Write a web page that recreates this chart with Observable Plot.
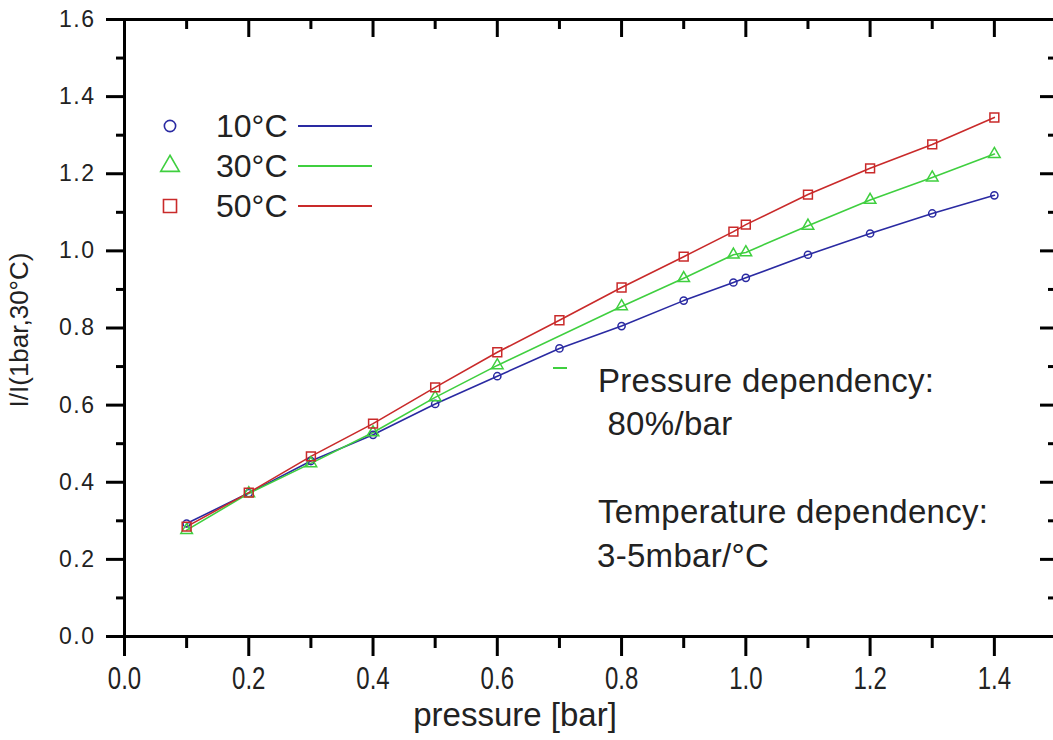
<!DOCTYPE html>
<html><head><meta charset="utf-8">
<script src="https://cdn.jsdelivr.net/npm/d3@7"></script>
<script src="https://cdn.jsdelivr.net/npm/@observablehq/plot@0.6"></script>
<style>
html,body{margin:0;padding:0;background:#fff;overflow:hidden;}
#wrap{width:1053px;height:740px;overflow:hidden;position:relative;}
#wrap svg{display:block;max-width:none !important;width:1062px !important;height:740px !important;}
</style></head><body><div id="wrap"></div>
<script>
// ---- data ----
const seriesNames = ["10°C", "30°C", "50°C"];
const seriesColors = ["#2a2aa2", "#3fcf3f", "#c92a2a"];
const seriesSymbols = ["circle", "triangle", "square"];

const pressure10 = [0.1, 0.2, 0.3, 0.4, 0.5, 0.6, 0.7, 0.8, 0.9, 0.98, 1.0, 1.1, 1.2, 1.3, 1.4];
const ratio10    = [0.293, 0.372, 0.455, 0.523, 0.603, 0.675, 0.747, 0.805, 0.871, 0.918, 0.930, 0.990, 1.045, 1.097, 1.144];

const pressure30 = [0.1, 0.2, 0.3, 0.4, 0.5, 0.6, 0.8, 0.9, 0.98, 1.0, 1.1, 1.2, 1.3, 1.4];
const ratio30    = [0.276, 0.371, 0.449, 0.529, 0.620, 0.703, 0.856, 0.929, 0.990, 0.996, 1.065, 1.132, 1.190, 1.251];

const pressure50 = [0.1, 0.2, 0.3, 0.4, 0.5, 0.6, 0.7, 0.8, 0.9, 0.98, 1.0, 1.1, 1.2, 1.3, 1.4];
const ratio50    = [0.285, 0.373, 0.467, 0.552, 0.646, 0.737, 0.820, 0.905, 0.985, 1.050, 1.068, 1.146, 1.214, 1.276, 1.346];

const xMajorTicks = [0.0, 0.2, 0.4, 0.6, 0.8, 1.0, 1.2, 1.4];
const xMinorTicks = [0.1, 0.3, 0.5, 0.7, 0.9, 1.1, 1.3];
const xTickLabels = ["0.0", "0.2", "0.4", "0.6", "0.8", "1.0", "1.2", "1.4"];
const yMajorTicks = [0.0, 0.2, 0.4, 0.6, 0.8, 1.0, 1.2, 1.4, 1.6];
const yMinorTicks = [0.1, 0.3, 0.5, 0.7, 0.9, 1.1, 1.3, 1.5];
const yTickLabels = ["0.0", "0.2", "0.4", "0.6", "0.8", "1.0", "1.2", "1.4", "1.6"];

const xTitle = "pressure [bar]";
const yTitle = "I/I(1bar,30°C)";
const noteLines = ["Pressure dependency:", " 80%/bar", "Temperature dependency:", "3-5mbar/°C"];

// ---- build table ----
const series = [
  {name: seriesNames[0], p: pressure10, v: ratio10},
  {name: seriesNames[1], p: pressure30, v: ratio30},
  {name: seriesNames[2], p: pressure50, v: ratio50}
];
const rows = series.flatMap(s => s.p.map((p, i) => ({series: s.name, pressure: p, ratio: s.v[i]})));
const colorOf = Object.fromEntries(seriesNames.map((n, i) => [n, seriesColors[i]]));
const xFmt = d => xTickLabels[xMajorTicks.indexOf(d)];
const yFmt = d => yTickLabels[yMajorTicks.indexOf(d)];

const W = 1062, H = 740;
const mL = 124, mR = 6, mT = 19, mB = 104;
const plotW = W - mL - mR, plotH = H - mT - mB;
const xDom = [0, 1.5], yDom = [0, 1.6];
const pxX = (xDom[1] - xDom[0]) / plotW;   // data units per pixel
const pxY = (yDom[1] - yDom[0]) / plotH;
const axisStyle = {stroke: "#000", strokeWidth: 3, label: null};

const marks = [
  // data lines
  ...seriesNames.map(n => Plot.line(rows.filter(r => r.series === n), {x: "pressure", y: "ratio", stroke: colorOf[n], strokeWidth: 1.6})),
  // markers
  Plot.dot(rows.filter(r => r.series === seriesNames[0]), {x: "pressure", y: "ratio", symbol: seriesSymbols[0], r: 3.6, stroke: seriesColors[0], strokeWidth: 1.5, fill: "none"}),
  Plot.dot(rows.filter(r => r.series === seriesNames[1]), {x: "pressure", y: "ratio", symbol: seriesSymbols[1], r: 4.3, stroke: seriesColors[1], strokeWidth: 1.5, fill: "none"}),
  Plot.dot(rows.filter(r => r.series === seriesNames[2]), {x: "pressure", y: "ratio", symbol: seriesSymbols[2], r: 5, stroke: seriesColors[2], strokeWidth: 1.5, fill: "none"}),
  // frame
  Plot.frame({stroke: "#000", strokeWidth: 3}),
  // bottom axis (outward)
  Plot.axisX({anchor: "bottom", ticks: xMajorTicks, tickSize: 20, tickPadding: 10, tickFormat: xFmt, ...axisStyle, fill: "#222"}),
  Plot.axisX({anchor: "bottom", ticks: xMinorTicks, tickSize: 12, text: null, ...axisStyle}),
  // left axis (outward)
  Plot.axisY({anchor: "left", ticks: yMajorTicks, tickSize: 18, tickPadding: 11, tickFormat: yFmt, ...axisStyle, fill: "#222"}),
  Plot.axisY({anchor: "left", ticks: yMinorTicks, tickSize: 8, text: null, ...axisStyle}),
  // top axis: inward ticks
  Plot.ruleX(xMajorTicks, {x: d => d, y1: yDom[1], y2: yDom[1] - 18 * pxY, stroke: "#000", strokeWidth: 3}),
  Plot.ruleX(xMinorTicks, {x: d => d, y1: yDom[1], y2: yDom[1] - 10 * pxY, stroke: "#000", strokeWidth: 3}),
  // right axis: inward ticks
  Plot.ruleY(yMajorTicks, {y: d => d, x1: xDom[1], x2: xDom[1] - 16 * pxX, stroke: "#000", strokeWidth: 3}),
  Plot.ruleY(yMinorTicks, {y: d => d, x1: xDom[1], x2: xDom[1] - 8 * pxX, stroke: "#000", strokeWidth: 3})
];

const chart = Plot.plot({
  width: W, height: H,
  marginLeft: mL, marginRight: mR, marginTop: mT, marginBottom: mB,
  style: {background: "#fff", fontFamily: "'Liberation Sans', Arial, sans-serif", maxWidth: "none"},
  x: {domain: xDom, axis: null},
  y: {domain: yDom, axis: null},
  marks
});
document.getElementById("wrap").appendChild(chart);

const svg = d3.select(chart);

// tick label styling
svg.selectAll('g[aria-label="y-axis tick label"] text')
  .style("font-size", "23px").style("letter-spacing", "1.5px")
  .style("font-family", "'Liberation Sans', Arial, sans-serif");
svg.selectAll('g[aria-label="x-axis tick label"] text').each(function() {
  const t = d3.select(this);
  t.style("font-size", "24px").style("font-family", "'Liberation Sans Narrow', 'Liberation Sans', Arial, sans-serif");
  const tr = t.attr("transform") || "";
  t.attr("transform", tr + " scale(1,1.3)");
});

// axis titles
svg.append("text").text(xTitle)
  .attr("x", 515).attr("y", 726).attr("text-anchor", "middle")
  .style("font-family", "'Liberation Sans Narrow', 'Liberation Sans', Arial, sans-serif")
  .style("font-size", "33px").attr("fill", "#222");
svg.append("text").text(yTitle)
  .attr("transform", "translate(28,330) rotate(-90)").attr("text-anchor", "middle")
  .style("font-family", "'Liberation Sans', Arial, sans-serif")
  .style("font-size", "26px").attr("fill", "#222");

// legend
const lg = svg.append("g");
const legY = [126, 166, 206];
seriesNames.forEach((n, i) => {
  const sym = [d3.symbolCircle, d3.symbolTriangle, d3.symbolSquare][i];
  const size = [100, 150, 170][i];
  lg.append("path").attr("d", d3.symbol(sym, size)()).attr("transform", `translate(170,${legY[i]})`)
    .attr("fill", "none").attr("stroke", seriesColors[i]).attr("stroke-width", 1.6);
  lg.append("text").text(n).attr("x", 216).attr("y", legY[i] + 11).attr("text-anchor", "start")
    .style("font-family", "'Liberation Sans', Arial, sans-serif").style("font-size", "32px").attr("fill", "#222");
  lg.append("line").attr("x1", 298).attr("x2", 372).attr("y1", legY[i]).attr("y2", legY[i])
    .attr("stroke", seriesColors[i]).attr("stroke-width", 2);
});

// annotation
const noteX = [598, 598, 598, 597];
const noteY = [392, 435, 523, 567];
noteLines.forEach((s, i) => {
  svg.append("text").text(s).attr("x", noteX[i]).attr("y", noteY[i]).attr("text-anchor", "start")
    .attr("xml:space", "preserve").style("white-space", "pre").style("letter-spacing", "0.3px")
    .style("font-family", "'Liberation Sans', Arial, sans-serif").style("font-size", "33px").attr("fill", "#222");
});
// small stray green dash
svg.append("line").attr("x1", 553).attr("x2", 567).attr("y1", 368).attr("y2", 368)
  .attr("stroke", seriesColors[1]).attr("stroke-width", 2);
</script>
</body></html>
